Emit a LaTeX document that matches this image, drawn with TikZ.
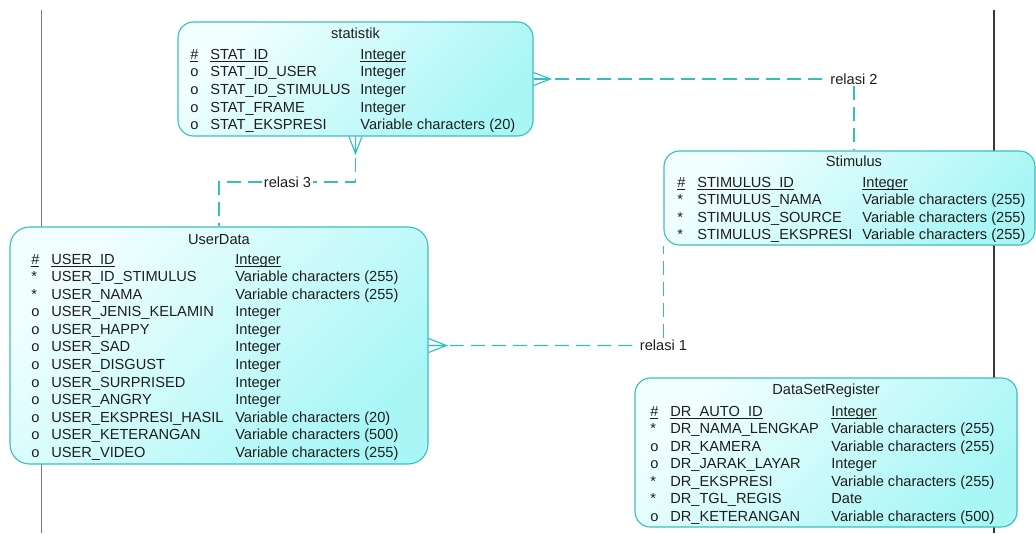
\documentclass[tikz,border=0pt]{standalone}
\usepackage{fontspec}
\setmainfont{Liberation Sans}
\usepackage{array}
\usetikzlibrary{calc,fit,positioning}
\definecolor{entline}{HTML}{3DBDBD}
\definecolor{entlight}{HTML}{F2FFFF}
\definecolor{entdark}{HTML}{A8F6F6}
\definecolor{relline}{HTML}{33BFBF}
\definecolor{pageline}{HTML}{7A7A7A}
\definecolor{pagedark}{HTML}{383838}
\definecolor{ink}{HTML}{1E1E1E}
\tikzset{every node/.style={font=\fontsize{10.4}{12.5}\selectfont,text=ink},
  entity/.style={draw=entline,line width=.8pt,inner sep=0pt,rounded corners=11pt,
    shading=axis,top color=entlight,bottom color=entdark,shading angle=45},
  title/.style={anchor=base,inner sep=0pt},
  cols/.style={anchor=base west,inner sep=0pt},
  rel/.style={draw=relline,line width=.8pt,dash pattern=on 10pt off 5pt},
  crowline/.style={draw=relline,line width=.8pt},
  relname/.style={inner sep=1pt},
  pageedge/.style={line width=1pt}}
% key column: underline at the underscore level
\newcommand{\keyline}[1]{\leavevmode\setbox0\hbox{#1}\rlap{\rule[-1.9pt]{\wd0}{.6pt}}\box0}
\newcommand{\pkrow}[2]{\keyline{\#}&\keyline{#1}&\keyline{#2}\\}

\begin{document}
\begin{tikzpicture}[x=0.025cm,y=-0.025cm]
\useasboundingbox (0,0) rectangle (1036,533);
\draw[pageedge,draw=pageline] (41.5,10) -- (41.5,533);
\draw[pageedge,draw=pagedark] (994,10) -- (994,533);
% entities
\node[entity,fit={(178,22)(533,136)}] (statistik) {};
\node[title] (statistik-t) at (355.5,38.5) {statistik};
\node[cols] (statistik-c) at (190,59.3) {\begin{tabular}[t]{@{}p{.5cm}@{}p{3.75cm}@{}l@{}}
\pkrow{STAT\_ID}{Integer}
o&STAT\_ID\_USER&Integer\\
o&STAT\_ID\_STIMULUS&Integer\\
o&STAT\_FRAME&Integer\\
o&STAT\_EKSPRESI&Variable characters (20)
\end{tabular}};
\node[entity,fit={(664,151)(1035,245)}] (stimulus) {};
\node[title] (stimulus-t) at (854,166) {Stimulus};
\node[cols] (stimulus-c) at (677,187) {\begin{tabular}[t]{@{}p{.5cm}@{}p{4.125cm}@{}l@{}}
\pkrow{STIMULUS\_ID}{Integer}
{*}&STIMULUS\_NAMA&Variable characters (255)\\
{*}&STIMULUS\_SOURCE&Variable characters (255)\\
{*}&STIMULUS\_EKSPRESI&Variable characters (255)
\end{tabular}};
\node[entity,rounded corners=14pt,fit={(10,227)(428,464)}] (userdata) {};
\node[title] (userdata-t) at (219,244) {UserData};
\node[cols] (userdata-c) at (31,264) {\begin{tabular}[t]{@{}p{.5cm}@{}p{4.6cm}@{}l@{}}
\pkrow{USER\_ID}{Integer}
{*}&USER\_ID\_STIMULUS&Variable characters (255)\\
{*}&USER\_NAMA&Variable characters (255)\\
o&USER\_JENIS\_KELAMIN&Integer\\
o&USER\_HAPPY&Integer\\
o&USER\_SAD&Integer\\
o&USER\_DISGUST&Integer\\
o&USER\_SURPRISED&Integer\\
o&USER\_ANGRY&Integer\\
o&USER\_EKSPRESI\_HASIL&Variable characters (20)\\
o&USER\_KETERANGAN&Variable characters (500)\\
o&USER\_VIDEO&Variable characters (255)
\end{tabular}};
\node[entity,fit={(635,378)(1017,527)}] (dataset) {};
\node[title] (dataset-t) at (826,394.5) {DataSetRegister};
\node[cols] (dataset-c) at (650,416) {\begin{tabular}[t]{@{}p{.5cm}@{}p{4.025cm}@{}l@{}}
\pkrow{DR\_AUTO\_ID}{Integer}
{*}&DR\_NAMA\_LENGKAP&Variable characters (255)\\
o&DR\_KAMERA&Variable characters (255)\\
o&DR\_JARAK\_LAYAR&Integer\\
{*}&DR\_EKSPRESI&Variable characters (255)\\
{*}&DR\_TGL\_REGIS&Date\\
o&DR\_KETERANGAN&Variable characters (500)
\end{tabular}};
% relations
\node[relname] (r1) at (663.5,345.5) {relasi 1};
\node[relname] (r2) at (854,79) {relasi 2};
\node[relname] (r3) at (287.5,182) {relasi 3};
\draw[rel] (statistik.east) -- (r2.west);
\draw[rel] (r2.south) -- (r2.south |- stimulus.north);
\draw[rel] (statistik.south) |- (r3.east);
\draw[rel] (r3.west) -| (userdata.north);
\draw[rel] (userdata.east) -- (r1.west);
\draw[rel] (r1.north) -- (r1.north |- stimulus.south);
% crow's feet
\draw[crowline] ($(statistik.east)+(0,-6.5)$) -- ($(statistik.east)+(17,0)$) -- ($(statistik.east)+(0,6.5)$) (statistik.east) -- ++(17,0);
\draw[crowline] ($(statistik.south)+(-6.5,0)$) -- ($(statistik.south)+(0,17)$) -- ($(statistik.south)+(6.5,0)$) (statistik.south) -- ++(0,17);
\draw[crowline] ($(userdata.east)+(0,-7)$) -- ($(userdata.east)+(18,0)$) -- ($(userdata.east)+(0,7)$) (userdata.east) -- ++(18,0);
\end{tikzpicture}
\end{document}
